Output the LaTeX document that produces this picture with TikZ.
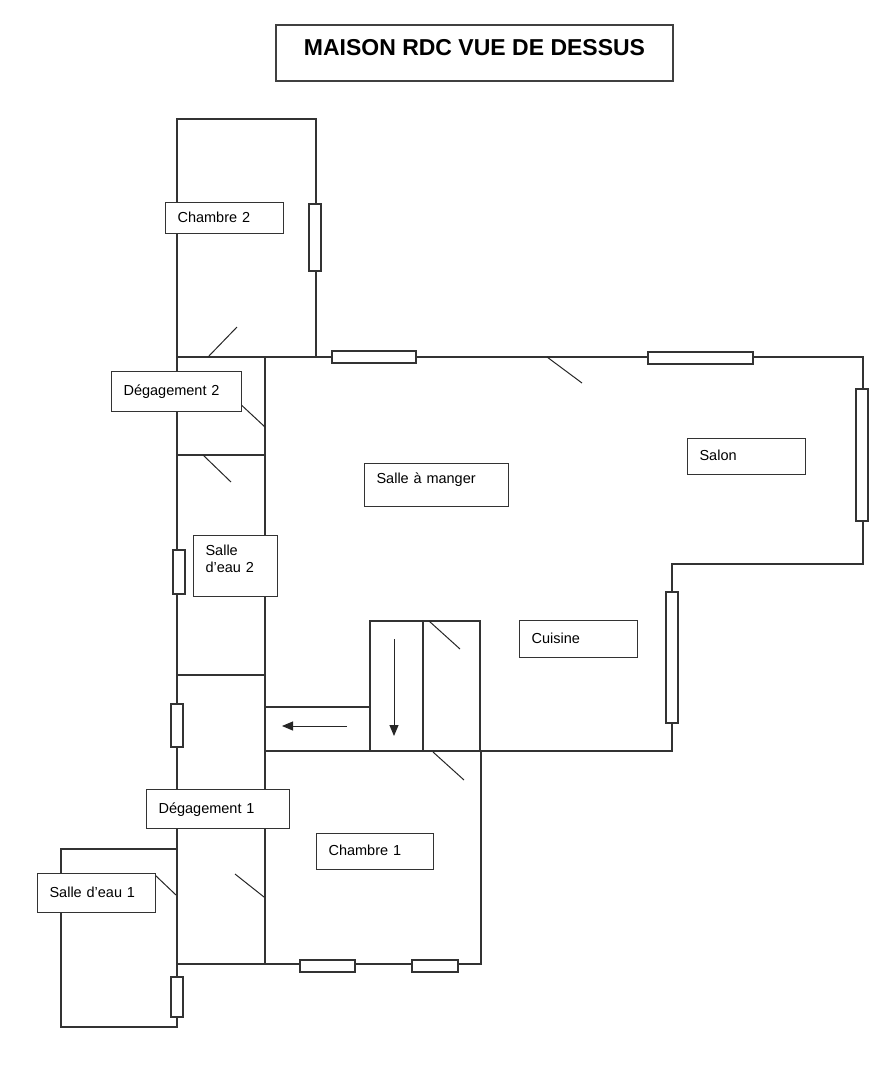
\documentclass[tikz,border=0pt]{standalone}
\usepackage{fontspec}
\setmainfont{Liberation Sans}
\usetikzlibrary{arrows.meta}

\begin{document}
\begin{tikzpicture}[x=1pt,y=-1pt]
	\tikzset{wall/.style={draw=black!80,line width=1.1pt}}
	\tikzset{window/.style={draw=black!80,line width=1.1pt,fill=white}}
	\tikzset{door/.style={draw=black!85,line width=1pt}}
	\tikzset{flow/.style={draw=black!85,line width=1pt,-{Triangle[length=11pt,width=9pt]}}}
	\tikzset{roomlabel/.style={draw=black!80,line width=1.1pt,fill=white,anchor=north west,align=left,inner xsep=12pt,text height=11pt,text depth=3pt,font=\fontsize{14.5}{17}\selectfont}}
	\useasboundingbox (0,0) rectangle (894,1080);
	\node[draw=black!75,line width=1.1pt,minimum width=397pt,minimum height=56pt,text height=17pt,text depth=13pt,font=\fontsize{23}{27}\selectfont\bfseries] (title) at (474.5,53) {MAISON RDC VUE DE DESSUS};
	\draw[wall] (316,357) -- (316,119) -- (177,119) -- (177,1027) -- (61,1027) -- (61,849) -- (177,849);
	\draw[wall] (177,357) -- (863,357) -- (863,564) -- (672,564) -- (672,751) -- (265,751);
	\draw[wall] (265,357) -- (265,675);
	\draw[wall,line width=1.6pt] (265,675) -- (265,964);
	\draw[wall] (177,455) -- (265,455);
	\draw[wall] (177,675) -- (265,675);
	\draw[wall] (177,964) -- (481,964) -- (481,751);
	\draw[wall] (265,707) -- (370,707);
	\draw[wall] (370,751) -- (370,621) -- (480,621) -- (480,751);
	\draw[wall] (423,621) -- (423,751);
	\draw[wall,line width=1.6pt] (370,751) -- (423,751);
	\draw[door] (208,357) -- (237,327);
	\draw[door] (236,400) -- (265,427);
	\draw[door] (203,455) -- (231,482);
	\draw[door] (547,357) -- (582,383);
	\draw[door] (429,621) -- (460,649);
	\draw[door] (433,752) -- (464,780);
	\draw[door] (235,874) -- (264,897);
	\draw[door] (155,875) -- (176,895);
	\draw[window] (309,204) rectangle (321,271);
	\draw[window] (332,351) rectangle (416,363);
	\draw[window] (648,352) rectangle (753,364);
	\draw[window] (856,389) rectangle (868,521);
	\draw[window] (666,592) rectangle (678,723);
	\draw[window] (173,550) rectangle (185,594);
	\draw[window] (171,704) rectangle (183,747);
	\draw[window] (300,960) rectangle (355,972);
	\draw[window] (412,960) rectangle (458,972);
	\draw[window] (171,977) rectangle (183,1017);
	\coordinate (corridorStart) at (347,726);
	\coordinate (corridorEnd) at (282,726);
	\coordinate (stairTop) at (394,639);
	\coordinate (stairBottom) at (394,736);
	\draw[flow] (corridorStart) -- (corridorEnd);
	\draw[flow] (stairTop) -- (stairBottom);
	\node[roomlabel,minimum width=118pt,text width=94pt,minimum height=31pt] (chambre2) at (165,202) {Chambre 2};
	\node[roomlabel,minimum width=130pt,text width=106pt,minimum height=40pt] (degagement2) at (111,371) {Dégagement 2};
	\node[roomlabel,minimum width=144pt,text width=120pt,minimum height=43pt,text depth=14pt] (salleamanger) at (364,463) {Salle à manger};
	\node[roomlabel,minimum width=118pt,text width=94pt,minimum height=36pt] (salon) at (687,438) {Salon};
	\node[roomlabel,minimum width=84pt,text width=60pt,minimum height=61pt,text depth=32pt] (salledeau2) at (193,535) {Salle\\d’eau 2};
	\node[roomlabel,minimum width=118pt,text width=94pt,minimum height=37pt] (cuisine) at (519,620) {Cuisine};
	\node[roomlabel,minimum width=143pt,text width=119pt,minimum height=39pt] (degagement1) at (146,789) {Dégagement 1};
	\node[roomlabel,minimum width=117pt,text width=93pt,minimum height=36pt] (chambre1) at (316,833) {Chambre 1};
	\node[roomlabel,minimum width=118pt,text width=94pt,minimum height=39pt] (salledeau1) at (37,873) {Salle d’eau 1};
\end{tikzpicture}
\end{document}
